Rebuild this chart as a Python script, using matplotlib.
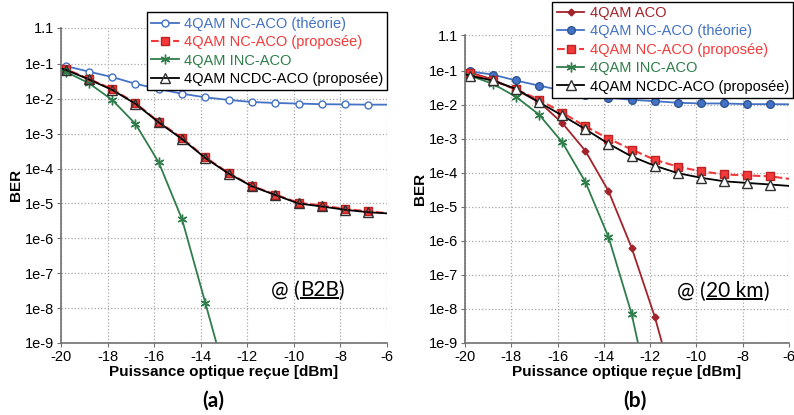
import matplotlib
matplotlib.use('Agg')
import matplotlib.pyplot as plt
from matplotlib.lines import Line2D

plt.rcParams['font.family'] = ['Liberation Sans', 'DejaVu Sans']

# abscisses communes (les extremites -20 / -6 servent au trace, pas aux marqueurs)
x_pts = [-20, -19.8, -18.8, -17.8, -16.8, -15.8, -14.8, -13.8, -12.8,
         -11.8, -10.8, -9.8, -8.8, -7.8, -6.8, -6]

# (a) B2B
theo_a = [0.092, 0.087, 0.060, 0.042, 0.027, 0.019, 0.014, 0.011, 0.0093,
          0.0081, 0.0076, 0.0073, 0.0070, 0.0069, 0.0068, 0.0068]
prop_a = [0.078, 0.072, 0.037, 0.019, 0.0075, 0.0022, 7.4e-4, 2.1e-4, 7.4e-5,
          3.2e-5, 1.8e-5, 1.05e-5, 8.7e-6, 7.0e-6, 5.9e-6, 5.3e-6]
ncdc_a = [0.075, 0.068, 0.036, 0.018, 0.0072, 0.0021, 7.0e-4, 2.0e-4, 7.2e-5,
          3.1e-5, 1.75e-5, 1.0e-5, 8.2e-6, 6.6e-6, 5.6e-6, 5.2e-6]
x_inc_a = [-20, -19.8, -18.8, -17.8, -16.8, -15.8, -14.8, -13.8, -13.2]
inc_a = [0.065, 0.060, 0.028, 0.0093, 1.9e-3, 1.5e-4, 3.5e-6, 1.4e-8, 5e-10]

# (b) 20 km
x_aco_b = [-20, -19.8, -18.8, -17.8, -16.8, -15.8, -14.8, -13.8, -12.8, -11.8, -11.2]
aco_b = [0.092, 0.089, 0.055, 0.027, 0.012, 2.9e-3, 4.4e-4, 2.9e-5, 6.3e-7, 5.9e-9, 2e-10]
theo_b = [0.098, 0.095, 0.076, 0.051, 0.036, 0.026, 0.019, 0.016, 0.0138,
          0.0126, 0.0113, 0.0108, 0.0108, 0.0103, 0.0103, 0.0102]
prop_b = [0.088, 0.083, 0.051, 0.028, 0.014, 5.8e-3, 2.3e-3, 1.0e-3, 4.8e-4,
          2.4e-4, 1.5e-4, 1.1e-4, 8.9e-5, 8.3e-5, 7.8e-5, 6.6e-5]
ncdc_b = [0.078, 0.071, 0.051, 0.029, 0.0117, 4.8e-3, 1.9e-3, 7.1e-4, 3.0e-4,
          1.6e-4, 9.7e-5, 7.1e-5, 5.6e-5, 5.0e-5, 4.5e-5, 4.1e-5]
x_inc_b = [-20, -19.8, -18.8, -17.8, -16.8, -15.8, -14.8, -13.8, -12.8, -12.3]
inc_b = [0.075, 0.071, 0.041, 0.017, 5.1e-3, 7.9e-4, 5.4e-5, 1.3e-6, 7.2e-9, 2e-10]

x_ticks = [-20, -18, -16, -14, -12, -10, -8, -6]
y_ticks = [1e-9, 1e-8, 1e-7, 1e-6, 1e-5, 1e-4, 1e-3, 1e-2, 1e-1, 1.1]
y_labels = ['1e-9', '1e-8', '1e-7', '1e-6', '1e-5', '1e-4', '1e-3', '1e-2', '1e-1', '1.1']

BLUE = '#4472C4'
RED = '#F23A3A'
GREEN = '#2F7D4A'
DARKRED = '#A3232B'
mk = slice(1, -1)

fig = plt.figure(figsize=(7.94, 4.15), dpi=100)
ax_a = fig.add_axes([0.0768, 0.1735, 0.4106, 0.760])
ax_b = fig.add_axes([0.5856, 0.1735, 0.4081, 0.742])


def style_axes(ax):
    ax.set_yscale('log')
    ax.set_xlim(-20, -6)
    ax.set_ylim(1e-9, 1.1)
    ax.set_xticks(x_ticks)
    ax.set_xticklabels([str(t) for t in x_ticks])
    ax.set_yticks(y_ticks)
    ax.set_yticklabels(y_labels)
    ax.minorticks_off()
    ax.tick_params(labelsize=10.5, length=3, color='#707070', pad=2)
    ax.grid(True, linestyle=':', color='#a8a8a8', linewidth=0.9)
    for s in ['top', 'right']:
        ax.spines[s].set_visible(False)
    for s in ['left', 'bottom']:
        ax.spines[s].set_color('#707070')
        ax.spines[s].set_linewidth(1.2)
    ax.set_xlabel('Puissance optique reçue [dBm]', fontsize=11, fontweight='bold', labelpad=1)
    ax.set_ylabel('BER', fontsize=11, fontweight='bold', labelpad=1)


def underlined_note(ax, x, y, pre, word, post):
    t1 = ax.text(x, y, pre, transform=ax.transAxes, fontsize=15,
                 family=['Lato', 'DejaVu Sans'], va='bottom', ha='left')
    t2 = ax.annotate(word, xy=(1, 0), xycoords=t1, fontsize=15,
                     family=['Lato', 'DejaVu Sans'], va='bottom', ha='left')
    ax.annotate(post, xy=(1, 0), xycoords=t2, fontsize=15,
                family=['Lato', 'DejaVu Sans'], va='bottom', ha='left')
    return t2


def line_legend(ax, handles_info, anchor):
    leg = fig.legend(handles=[h for h, _ in handles_info], loc='upper right',
                     bbox_to_anchor=anchor, bbox_transform=fig.transFigure,
                     fontsize=10.5, frameon=True, fancybox=False, framealpha=1,
                     edgecolor='black', handlelength=1.9, handletextpad=0.35,
                     labelspacing=0.3, borderpad=0.3, borderaxespad=0)
    leg.get_frame().set_linewidth(1.0)
    for txt, (_, c) in zip(leg.get_texts(), handles_info):
        txt.set_color(c)
    return leg


# ---- (a)
style_axes(ax_a)
h1, = ax_a.plot(x_pts, theo_a, '-', color=BLUE, lw=1.3, marker='o', ms=5,
                mfc='white', mec=BLUE, markevery=mk, label='4QAM NC-ACO (théorie)')
h2, = ax_a.plot(x_pts, prop_a, '--', color=RED, lw=1.5, marker='s', ms=5.5,
                mfc=RED, mec='#C02020', markevery=mk, label='4QAM NC-ACO (proposée)')
h3, = ax_a.plot(x_inc_a, inc_a, '-', color=GREEN, lw=1.3, marker=(6, 2, 0), ms=7,
                mec=GREEN, markevery=mk, label='4QAM INC-ACO')
h4, = ax_a.plot(x_pts, ncdc_a, '-', color='black', lw=1.3, marker='^', ms=7,
                mfc='none', mec='#303030', markevery=mk, label='4QAM NCDC-ACO (proposée)')
line_legend(ax_a, [(h1, BLUE), (h2, RED), (h3, GREEN), (h4, 'black')], (0.488, 0.970))
u_a = underlined_note(ax_a, 0.645, 0.135, '@ (', 'B2B', ')')

# ---- (b)
style_axes(ax_b)
g0, = ax_b.plot(x_aco_b, aco_b, '-', color=DARKRED, lw=1.3, marker='D', ms=3.5,
                mfc=DARKRED, mec=DARKRED, markevery=mk, label='4QAM ACO')
g1, = ax_b.plot(x_pts, theo_b, '-', color=BLUE, lw=1.3, marker='o', ms=5.5,
                mfc=BLUE, mec='#2F5597', markevery=mk, label='4QAM NC-ACO (théorie)')
g2, = ax_b.plot(x_pts, prop_b, '--', color=RED, lw=1.5, marker='s', ms=5.5,
                mfc=RED, mec='#C02020', markevery=mk, label='4QAM NC-ACO (proposée)')
g3, = ax_b.plot(x_inc_b, inc_b, '-', color=GREEN, lw=1.3, marker=(6, 2, 0), ms=7,
                mec=GREEN, markevery=mk, label='4QAM INC-ACO')
g4, = ax_b.plot(x_pts, ncdc_b, '-', color='black', lw=1.3, marker='^', ms=7,
                mfc='white', mec='#303030', markevery=mk, label='4QAM NCDC-ACO (proposée)')
line_legend(ax_b, [(g0, DARKRED), (g1, BLUE), (g2, RED), (g3, GREEN), (g4, 'black')],
            (0.999, 0.996))
u_b = underlined_note(ax_b, 0.655, 0.135, '@ (', '20 km', ')')

fig.text(0.268, 0.035, '(a)', fontsize=15, fontweight='bold',
         family=['Lato', 'DejaVu Sans'], ha='center', va='center')
fig.text(0.800, 0.035, '(b)', fontsize=15, fontweight='bold',
         family=['Lato', 'DejaVu Sans'], ha='center', va='center')

# soulignement des mots "B2B" / "20 km"
fig.canvas.draw()
inv = fig.transFigure.inverted()
for t in (u_a, u_b):
    bb = t.get_window_extent()
    yl = bb.y0 + 0.14 * bb.height
    (x0, y0), (x1, _) = inv.transform([(bb.x0 + 1, yl), (bb.x1 - 1, yl)])
    fig.add_artist(Line2D([x0, x1], [y0, y0], color='black', lw=1.4,
                          transform=fig.transFigure))

fig.savefig('out.png', dpi=100)
